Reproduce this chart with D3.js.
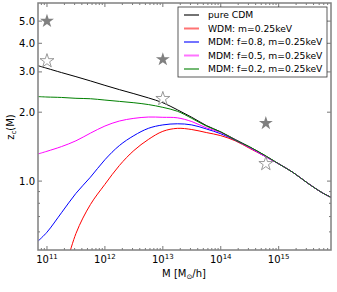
<!DOCTYPE html>
<html>
<head>
<meta charset="utf-8">
<script src="https://cdn.jsdelivr.net/npm/d3@7"></script>
<style>
  body { margin: 0; background: #fff; }
  svg { font-family: "DejaVu Sans", sans-serif; }
</style>
</head>
<body>
<div id="chart"></div>
<script>
// log10 of M [Msun/h]
var logMass = [10.85, 11.0, 11.25, 11.5, 11.75, 12.0, 12.25, 12.5, 12.75, 13.0, 13.25,
               13.5, 13.75, 14.0, 14.25, 14.5, 14.75, 15.0, 15.25, 15.5, 15.75, 15.9];

var cdm   = [3.19, 3.11, 2.98, 2.86, 2.74, 2.62, 2.51, 2.41, 2.31, 2.20, 2.05,
             1.90, 1.75, 1.64, 1.52, 1.41, 1.30, 1.19, 1.09, 0.98, 0.89, 0.85];
var wdm   = [null, null, 0.36, 0.59, 0.79, 0.968, 1.17, 1.36, 1.52, 1.65, 1.70,
             1.68, 1.63, 1.58, 1.50, 1.39, 1.29, 1.19, 1.09, 0.98, 0.89, 0.85];
var mdm08 = [0.548, 0.598, 0.727, 0.884, 1.04, 1.24, 1.43, 1.58, 1.70, 1.76, 1.78,
             1.76, 1.69, 1.61, 1.51, 1.40, 1.29, 1.19, 1.09, 0.98, 0.89, 0.85];
var mdm05 = [1.315, 1.35, 1.415, 1.50, 1.62, 1.74, 1.83, 1.88, 1.905, 1.90, 1.89,
             1.82, 1.71, 1.63, 1.51, 1.40, 1.29, 1.19, 1.09, 0.98, 0.89, 0.85];
var mdm02 = [2.34, 2.33, 2.32, 2.30, 2.29, 2.26, 2.23, 2.20, 2.16, 2.10, 2.02,
             1.88, 1.74, 1.64, 1.51, 1.41, 1.30, 1.19, 1.09, 0.98, 0.89, 0.85];

var seriesNames = ["pure CDM", "WDM: m=0.25keV", "MDM: f=0.8, m=0.25keV",
                   "MDM: f=0.5, m=0.25keV", "MDM: f=0.2, m=0.25keV"];
var seriesColors = ["#000000", "#ff0000", "#0000ff", "#ff00ff", "#008000"];
var seriesValues = [cdm, wdm, mdm08, mdm05, mdm02];

// stars (simulation points)
var starFilledM = [1e11, 1e13, 6e14];
var starFilledZ = [5.0, 3.4, 1.79];
var starOpenM   = [1e11, 1e13, 6e14];
var starOpenZ   = [3.35, 2.29, 1.19];

var yTicks = [1, 2, 3, 4, 5];
var yMinor = [0.6, 0.7, 0.8, 0.9];
var xTicks = [1e11, 1e12, 1e13, 1e14, 1e15];

var width = 337, height = 292;
var margin = { top: 3, left: 38, bottom: 42, right: 6 };

var svg = d3.select("#chart").append("svg")
    .attr("width", width)
    .attr("height", height);

var x = d3.scaleLog().domain([7e10, 8e15]).range([margin.left, width - margin.right]);
var y = d3.scaleLog().domain([0.5, 6]).range([height - margin.bottom, margin.top]);

svg.append("clipPath").attr("id", "clip")
    .append("rect")
    .attr("x", x.range()[0]).attr("y", y.range()[1])
    .attr("width", x.range()[1] - x.range()[0])
    .attr("height", y.range()[0] - y.range()[1]);

var x0 = x.range()[0], x1 = x.range()[1], y0 = y.range()[0], y1 = y.range()[1];

// ticks (inward, all four sides)
var xMinor = [];
for (var e = 10; e <= 15; e++) {
    for (var k = 2; k <= 9; k++) {
        var v = k * Math.pow(10, e);
        if (v > x.domain()[0] && v < x.domain()[1]) xMinor.push(v);
    }
}
var ticks = svg.append("g").attr("stroke", "#555").attr("stroke-width", 0.8);
xTicks.forEach(function (t) {
    ticks.append("line").attr("x1", x(t)).attr("x2", x(t)).attr("y1", y0).attr("y2", y0 - 4);
    ticks.append("line").attr("x1", x(t)).attr("x2", x(t)).attr("y1", y1).attr("y2", y1 + 4);
});
xMinor.forEach(function (t) {
    ticks.append("line").attr("x1", x(t)).attr("x2", x(t)).attr("y1", y0).attr("y2", y0 - 2);
    ticks.append("line").attr("x1", x(t)).attr("x2", x(t)).attr("y1", y1).attr("y2", y1 + 2);
});
yTicks.forEach(function (t) {
    ticks.append("line").attr("y1", y(t)).attr("y2", y(t)).attr("x1", x0).attr("x2", x0 + 4);
    ticks.append("line").attr("y1", y(t)).attr("y2", y(t)).attr("x1", x1).attr("x2", x1 - 4);
});
yMinor.forEach(function (t) {
    ticks.append("line").attr("y1", y(t)).attr("y2", y(t)).attr("x1", x0).attr("x2", x0 + 2);
    ticks.append("line").attr("y1", y(t)).attr("y2", y(t)).attr("x1", x1).attr("x2", x1 - 2);
});

// curves
var line = d3.line()
    .defined(function (d) { return d[1] != null; })
    .x(function (d) { return x(Math.pow(10, d[0])); })
    .y(function (d) { return y(d[1]); })
    .curve(d3.curveCatmullRom);

var curves = svg.append("g").attr("clip-path", "url(#clip)");
seriesValues.forEach(function (vals, i) {
    var pts = logMass.map(function (m, j) { return [m, vals[j]]; });
    curves.append("path")
        .datum(pts)
        .attr("d", line)
        .attr("fill", "none")
        .attr("stroke", seriesColors[i])
        .attr("stroke-width", 1);
});

// stars
var star = d3.symbol().type(d3.symbolStar).size(60);
starFilledM.forEach(function (m, i) {
    svg.append("path").attr("d", star)
        .attr("transform", "translate(" + x(m) + "," + y(starFilledZ[i]) + ")")
        .attr("fill", "#808080");
});
starOpenM.forEach(function (m, i) {
    svg.append("path").attr("d", star)
        .attr("transform", "translate(" + x(m) + "," + y(starOpenZ[i]) + ")")
        .attr("fill", "#fff")
        .attr("stroke", "#808080")
        .attr("stroke-width", 0.8);
});

// frame
svg.append("rect")
    .attr("x", x0).attr("y", y1)
    .attr("width", x1 - x0).attr("height", y0 - y1)
    .attr("fill", "none")
    .attr("stroke", "#808080")
    .attr("stroke-width", 1.5);

// tick labels
yTicks.forEach(function (t) {
    svg.append("text")
        .attr("x", x0 - 3)
        .attr("y", y(t))
        .attr("dy", "0.35em")
        .style("text-anchor", "end")
        .style("font-size", "10px")
        .text(t.toFixed(1));
});
xTicks.forEach(function (t) {
    var lab = svg.append("text")
        .attr("x", x(t))
        .attr("y", y0 + 13)
        .style("text-anchor", "middle")
        .style("font-size", "10px");
    lab.append("tspan").text("10");
    lab.append("tspan").attr("dy", -4).style("font-size", "7px")
        .text(Math.round(Math.log10(t)));
});

// axis labels
var xl = svg.append("text")
    .attr("x", 184).attr("y", 277)
    .style("text-anchor", "middle")
    .style("font-size", "10px");
xl.append("tspan").text("M [M");
xl.append("tspan").attr("dy", 2).style("font-size", "7px").text("\u2299");
xl.append("tspan").attr("dy", -2).text("/h]");

var yl = svg.append("text")
    .attr("transform", "translate(14,127) rotate(-90)")
    .style("text-anchor", "middle")
    .style("font-size", "10px");
yl.append("tspan").text("z");
yl.append("tspan").attr("dy", 2).style("font-size", "7px").text("c");
yl.append("tspan").attr("dy", -2).text("(M)");

// legend
var legend = svg.append("g");
legend.append("rect")
    .attr("x", 178).attr("y", 7)
    .attr("width", 149).attr("height", 70)
    .attr("fill", "#fff")
    .attr("stroke", "#333")
    .attr("stroke-width", 0.8);
seriesNames.forEach(function (name, i) {
    var ly = 15 + i * 13.5;
    legend.append("line")
        .attr("x1", 184).attr("x2", 199)
        .attr("y1", ly).attr("y2", ly)
        .attr("stroke", seriesColors[i])
        .attr("stroke-opacity", 0.55)
        .attr("stroke-width", 2);
    legend.append("text")
        .attr("x", 208).attr("y", ly)
        .attr("dy", "0.35em")
        .style("font-size", "9.2px")
        .text(name);
});
</script>
</body>
</html>
